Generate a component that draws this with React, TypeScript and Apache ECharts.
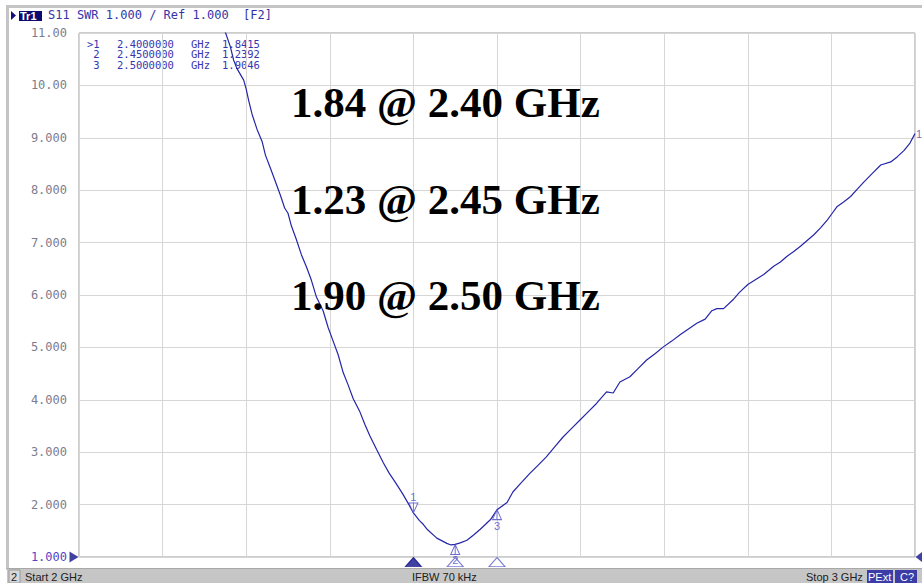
import React, { useEffect, useRef } from "react";
import * as echarts from "echarts";

// Trace S11 SWR (frequency in GHz, SWR)
const freqGHz = [
  2.170, 2.181, 2.185, 2.189, 2.197, 2.200, 2.203, 2.207, 2.213, 2.219,
  2.223, 2.229, 2.235, 2.241, 2.246, 2.250, 2.254, 2.260, 2.266, 2.272,
  2.278, 2.284, 2.292, 2.298, 2.304, 2.310, 2.316, 2.322, 2.328, 2.336,
  2.342, 2.348, 2.356, 2.364, 2.371, 2.379, 2.387, 2.395, 2.400, 2.407,
  2.412, 2.417, 2.428, 2.440, 2.445, 2.450, 2.456, 2.464, 2.472, 2.480,
  2.492, 2.500, 2.512, 2.519, 2.528, 2.539, 2.549, 2.559, 2.569, 2.579,
  2.589, 2.599, 2.609, 2.619, 2.631, 2.639, 2.647, 2.659, 2.669, 2.679,
  2.689, 2.699, 2.709, 2.719, 2.729, 2.739, 2.749, 2.757, 2.763, 2.771,
  2.783, 2.790, 2.800, 2.810, 2.819, 2.831, 2.839, 2.847, 2.855, 2.863,
  2.871, 2.879, 2.887, 2.895, 2.901, 2.907, 2.915, 2.923, 2.931, 2.939,
  2.949, 2.959, 2.971, 2.979, 2.987, 2.994, 3.000,
];
const swr = [
  11.25, 10.74, 10.48, 10.32, 10.10, 9.93, 9.71, 9.45, 9.16, 8.93,
  8.67, 8.42, 8.16, 7.90, 7.66, 7.56, 7.32, 7.06, 6.77, 6.54,
  6.28, 5.96, 5.70, 5.38, 5.12, 4.86, 4.52, 4.28, 4.02, 3.77,
  3.53, 3.31, 3.05, 2.80, 2.60, 2.41, 2.21, 1.99, 1.84, 1.70,
  1.62, 1.52, 1.36, 1.26, 1.23, 1.24, 1.27, 1.32, 1.42, 1.53,
  1.71, 1.90, 2.04, 2.24, 2.40, 2.59, 2.75, 2.91, 3.10, 3.29,
  3.45, 3.61, 3.77, 3.93, 4.15, 4.13, 4.34, 4.44, 4.60, 4.76,
  4.88, 5.01, 5.12, 5.24, 5.35, 5.46, 5.54, 5.70, 5.74, 5.74,
  5.92, 6.05, 6.20, 6.30, 6.39, 6.55, 6.63, 6.74, 6.83, 6.93,
  7.04, 7.15, 7.28, 7.43, 7.56, 7.69, 7.78, 7.88, 8.02, 8.16,
  8.32, 8.48, 8.54, 8.64, 8.76, 8.90, 9.08,
];

// Markers
const markerIds = ["1", "2", "3"];
const markerFreq = [2.4, 2.45, 2.5];
const markerSwr = [1.8415, 1.2392, 1.9046];
const annotations = ["1.84 @ 2.40 GHz", "1.23 @ 2.45 GHz", "1.90 @ 2.50 GHz"];

// Axes
const xMin = 2, xMax = 3, xStep = 0.1;
const yMin = 1, yMax = 11, yStep = 1;

// Status bar / header texts
const headerText = "S11 SWR 1.000 / Ref 1.000  [F2]";
const startText = "Start 2 GHz";
const ifbwText = "IFBW 70 kHz";
const stopText = "Stop 3 GHz";

const MONO = "DejaVu Sans Mono";
const SANS = "Liberation Sans";

export default function App() {
  const ref = useRef<HTMLDivElement>(null);
  useEffect(() => {
    if (!ref.current) return;
    const chart = echarts.init(ref.current, null, { renderer: "svg" });

    const downTri = "path://M0,0 L10,0 L5,10 Z M5,0 L5,10";
    const upTri = "path://M5,0 L10,10 L0,10 Z M5,0 L5,10";

    const curveMarkers = markerFreq.map((f, i) => ({
      value: [f, markerSwr[i]],
      symbol: i === 0 ? downTri : upTri,
      symbolSize: [9, 10],
      symbolOffset: i === 0 ? [0, -5] : [0, 5],
      label: {
        show: true,
        formatter: markerIds[i],
        position: i === 0 ? "top" : "bottom",
        distance: 0,
        color: "#4a4ac4",
        fontFamily: SANS,
        fontSize: 11,
      },
    }));

    const axisMarkers = markerFreq.map((f, i) => ({
      value: [f, yMin],
      itemStyle:
        i === 0
          ? { color: "#12128a", borderColor: "#12128a", borderWidth: 1 }
          : { color: "#ffffff", borderColor: "#5a5acc", borderWidth: 1 },
    }));

    const tableRows: any[] = [];
    markerFreq.forEach((f, i) => {
      const y = 38 + i * 10.6;
      const common = { fill: "#3636b0", font: `10.5px '${MONO}'`, lineHeight: 10 };
      tableRows.push({ type: "text", left: 87, top: y, style: { ...common, text: (i === 0 ? ">" : " ") + markerIds[i] } });
      tableRows.push({ type: "text", left: 117, top: y, style: { ...common, text: f.toFixed(7) } });
      tableRows.push({ type: "text", left: 191, top: y, style: { ...common, text: "GHz" } });
      tableRows.push({ type: "text", left: 222, top: y, style: { ...common, text: markerSwr[i].toFixed(4) } });
    });

    const bigTexts = annotations.map((t, i) => ({
      type: "text",
      left: 291,
      top: 81 + i * 96.7,
      style: {
        text: t,
        fill: "#000000",
        font: "bold 43px 'Liberation Serif'",
      },
      z: 50,
    }));

    chart.setOption({
      animation: false,
      backgroundColor: "#ffffff",
      grid: {
        left: 79,
        top: 33,
        right: 7,
        bottom: 26,
        show: true,
        borderColor: "#9a9a9a",
        borderWidth: 1,
        backgroundColor: "transparent",
      },
      xAxis: {
        type: "value",
        min: xMin,
        max: xMax,
        interval: xStep,
        axisLine: { show: false },
        axisTick: { show: false },
        axisLabel: { show: false },
        splitLine: { show: true, lineStyle: { color: "#d6d6d6", width: 1 } },
      },
      yAxis: {
        type: "value",
        min: yMin,
        max: yMax,
        interval: yStep,
        axisLine: { show: false },
        axisTick: { show: false },
        splitLine: { show: true, lineStyle: { color: "#d6d6d6", width: 1 } },
        axisLabel: {
          margin: 12,
          fontFamily: MONO,
          fontSize: 12,
          color: (v: any) => (Number(v) === yMin ? "#5444c4" : "#7c7c8e"),
          formatter: (v: number) => (v >= 10 ? v.toFixed(2) : v.toFixed(3)),
        },
      },
      series: [
        {
          type: "line",
          data: freqGHz.map((f, i) => [f, swr[i]]),
          showSymbol: false,
          clip: true,
          lineStyle: { color: "#2525a8", width: 1.2 },
          z: 3,
        },
        {
          type: "scatter",
          clip: false,
          data: curveMarkers,
          itemStyle: { color: "#ffffff", borderColor: "#4a4ac4", borderWidth: 1 },
          z: 5,
        },
        {
          type: "scatter",
          clip: false,
          symbol: "triangle",
          symbolSize: [16, 9],
          symbolOffset: [0, 5],
          data: axisMarkers,
          z: 4,
        },
        {
          type: "scatter",
          clip: false,
          data: [
            {
              value: [xMin, yMin],
              symbol: "path://M0,0 L10,5 L0,10 Z",
              symbolSize: [9, 11],
              symbolOffset: [-5, 0],
            },
            {
              value: [xMax, yMin],
              symbol: "path://M10,0 L0,5 L10,10 Z",
              symbolSize: [7, 11],
              symbolOffset: [4, 0],
            },
          ],
          itemStyle: { color: "#12128a" },
          z: 4,
        },
        {
          type: "scatter",
          clip: false,
          symbolSize: 0,
          data: [[freqGHz[freqGHz.length - 1], swr[swr.length - 1]]],
          label: {
            show: true,
            formatter: "1",
            position: "right",
            distance: 1,
            color: "#6a3aa0",
            fontFamily: SANS,
            fontSize: 11,
          },
          z: 5,
        },
      ],
      graphic: [
        // outer frame
        { type: "rect", shape: { x: 7, y: 5, width: 915, height: 3 }, style: { fill: "#c4c4c4" }, z: 1 },
        { type: "rect", shape: { x: 6, y: 5, width: 3, height: 565 }, style: { fill: "#c4c4c4" }, z: 1 },
        // header
        { type: "polygon", shape: { points: [[11, 11], [16, 15.5], [11, 20]] }, style: { fill: "#10107a" }, z: 10 },
        { type: "rect", shape: { x: 19, y: 11, width: 23, height: 10 }, style: { fill: "#0c0c70" }, z: 10 },
        { type: "text", left: 20, top: 10, style: { text: "Tr1", fill: "#ffffff", font: `bold 11px '${SANS}'` }, z: 11 },
        { type: "text", left: 48, top: 9, style: { text: headerText, fill: "#3434a8", font: `12px '${MONO}'` }, z: 10 },
        // marker table
        ...tableRows,
        // big annotations
        ...bigTexts,
        // status bar
        { type: "rect", shape: { x: 7, y: 569, width: 915, height: 14 }, style: { fill: "#c6c6c6" }, z: 10 },
        { type: "rect", shape: { x: 7, y: 568, width: 915, height: 1 }, style: { fill: "#a8a8a8" }, z: 10 },
        { type: "rect", shape: { x: 9, y: 570, width: 11, height: 13 }, style: { fill: "#d8d8d8", stroke: "#9a9a9a", lineWidth: 1 }, z: 11 },
        { type: "text", left: 11, top: 571, style: { text: "2", fill: "#202020", font: `11px '${SANS}'` }, z: 12 },
        { type: "text", left: 25, top: 571, style: { text: startText, fill: "#202020", font: `11px '${SANS}'` }, z: 12 },
        { type: "text", left: 412, top: 571, style: { text: ifbwText, fill: "#202020", font: `11px '${SANS}'` }, z: 12 },
        { type: "text", left: 806, top: 571, style: { text: stopText, fill: "#202020", font: `11px '${SANS}'` }, z: 12 },
        { type: "rect", shape: { x: 867, y: 570, width: 26, height: 13 }, style: { fill: "#3c3ca6" }, z: 11 },
        { type: "text", left: 868, top: 571, style: { text: "PExt", fill: "#ffffff", font: `11px '${SANS}'` }, z: 12 },
        { type: "rect", shape: { x: 895, y: 570, width: 22, height: 13 }, style: { fill: "#3c3ca6" }, z: 11 },
        { type: "text", left: 900, top: 571, style: { text: "C?", fill: "#ffffff", font: `11px '${SANS}'` }, z: 12 },
      ],
    });
    return () => chart.dispose();
  }, []);

  return (
    <div
      ref={ref}
      style={{ position: "fixed", left: 0, top: 0, width: 922, height: 583, background: "#ffffff" }}
    />
  );
}
